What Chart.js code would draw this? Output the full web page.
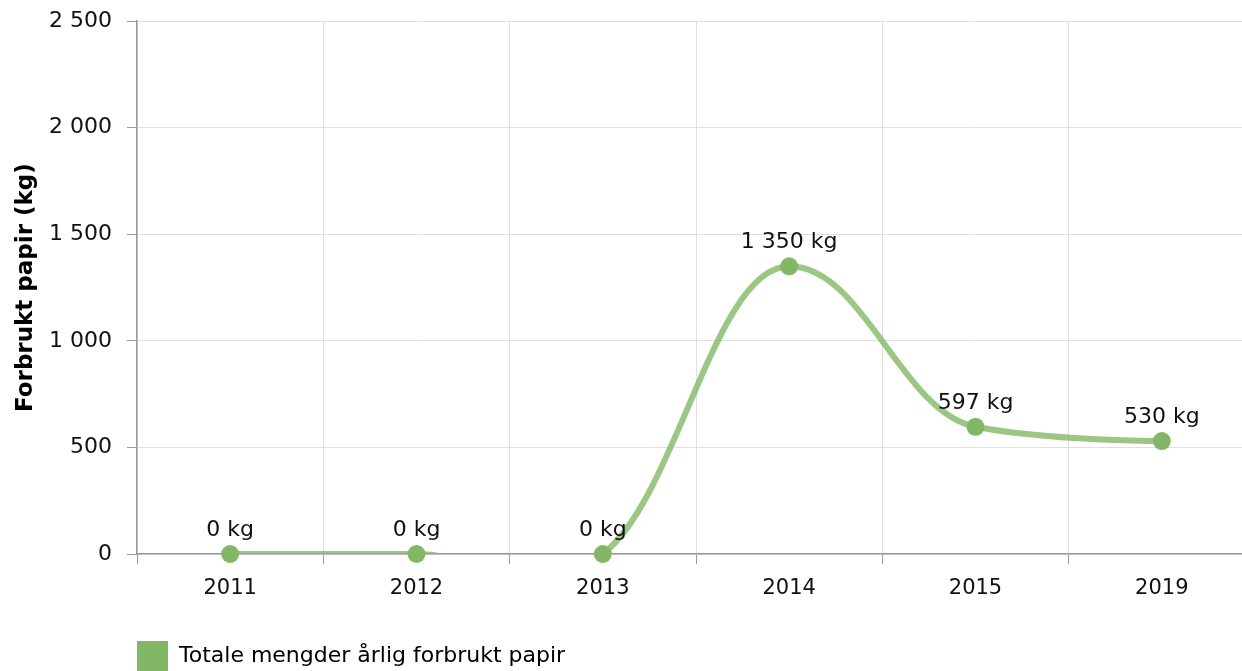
<!DOCTYPE html>
<html>
<head>
<meta charset="utf-8">
<script src="https://cdn.jsdelivr.net/npm/chart.js@4"></script>
<style>
  body { margin: 0; background: #fff; overflow: hidden; }
</style>
</head>
<body>
<!-- bigger than the window: the plot runs past the right edge and the legend is cut at the bottom, like the original -->
<canvas id="paperChart" width="1264" height="682"></canvas>
<script>
const years = ["2011", "2012", "2013", "2014", "2015", "2019"];
const paperKg = [0, 0, 0, 1350, 597, 530];
const seriesLabel = "Totale mengder årlig forbrukt papir";
const yTitle = "Forbrukt papir (kg)";

const FONT = "'DejaVu Sans', Verdana, sans-serif";
const GREEN = "#82b865";

// 1350 -> "1 350"
function spaced(n) {
    return String(n).replace(/\B(?=(\d{3})+(?!\d))/g, " ");
}

// spline like the original: control points at 1/2.5 of the way to the
// neighbours, lined up through the point, only the right one clamped
const splineFix = {
    id: "splineFix",
    beforeDatasetsDraw(chart) {
        const meta = chart.getDatasetMeta(0);
        const line = meta.dataset;
        line.updateControlPoints(chart.chartArea, "x");
        const pts = meta.data;
        const s = 1.5, den = s + 1;
        pts.forEach((p, i) => {
            const prev = pts[i - 1], next = pts[i + 1];
            if (!prev || !next) {
                p.cp1x = p.cp2x = p.x;
                p.cp1y = p.cp2y = p.y;
                return;
            }
            let lx = (s * p.x + prev.x) / den, ly = (s * p.y + prev.y) / den;
            let rx = (s * p.x + next.x) / den, ry = (s * p.y + next.y) / den;
            const corr = ((ry - ly) * (rx - p.x)) / (rx - lx) + p.y - ry;
            ly += corr;
            ry += corr;
            if (ry > next.y && ry > p.y) {
                ry = Math.max(next.y, p.y);
                ly = 2 * p.y - ry;
            } else if (ry < next.y && ry < p.y) {
                ry = Math.min(next.y, p.y);
                ly = 2 * p.y - ry;
            }
            p.cp1x = lx; p.cp1y = ly;
            p.cp2x = rx; p.cp2y = ry;
        });
    }
};

// draws "x kg" above every point
const pointLabels = {
    id: "pointLabels",
    afterDatasetsDraw(chart) {
        const ctx = chart.ctx;
        const meta = chart.getDatasetMeta(1);
        ctx.save();
        ctx.font = "22px " + FONT;
        ctx.fillStyle = "#111";
        ctx.textAlign = "center";
        ctx.textBaseline = "alphabetic";
        meta.data.forEach((pt, i) => {
            ctx.fillText(spaced(paperKg[i]) + " kg", pt.x, pt.y - 18);
        });
        ctx.restore();
    }
};

let ctx = document.getElementById("paperChart").getContext("2d");

const config = {
    type: "line",
    data: {
        labels: years,
        datasets: [{
            label: seriesLabel,
            data: paperKg,
            borderColor: "rgba(130, 184, 101, 0.8)",
            borderWidth: 6,
            tension: 0.4,
            pointRadius: 0,
            pointHoverRadius: 0,
            fill: false,
            clip: { left: 10, right: 10, top: 10, bottom: 0 }
        }, {
            label: "points",
            data: paperKg,
            showLine: false,
            pointRadius: 9,
            pointHoverRadius: 9,
            pointBackgroundColor: GREEN,
            pointBorderWidth: 0,
            clip: false
        }]
    },
    options: {
        responsive: false,
        animation: false,
        layout: { padding: { top: 11, right: 0, left: 0, bottom: 0 } },
        plugins: {
            tooltip: { enabled: false },
            legend: {
                position: "bottom",
                align: "start",
                fullSize: false,
                labels: {
                    boxWidth: 31,
                    boxHeight: 31,
                    padding: 0,
                    color: "#111",
                    font: { family: FONT, size: 22 },
                    generateLabels(chart) {
                        return [{
                            text: seriesLabel,
                            fillStyle: GREEN,
                            strokeStyle: GREEN,
                            lineWidth: 0,
                            datasetIndex: 0
                        }];
                    }
                }
            }
        },
        scales: {
            x: {
                offset: true,
                grid: {
                    offset: true,
                    color: "#e0e0e0",
                    tickLength: 10,
                    tickColor: "#999"
                },
                border: { color: "#999", width: 1.5 },
                ticks: {
                    color: "#111",
                    padding: 12,
                    font: { family: FONT, size: 21 }
                },
                afterFit(scale) { scale.height = 87; }
            },
            y: {
                min: 0,
                max: 2500,
                grid: {
                    color: "#e0e0e0",
                    tickLength: 10,
                    tickColor: "#999"
                },
                border: { color: "#999", width: 1.5 },
                ticks: {
                    stepSize: 500,
                    color: "#111",
                    padding: 8,
                    font: { family: FONT, size: 22 },
                    // trailing space keeps the labels a little further from the axis
                    callback: (v) => spaced(v) + " "
                },
                title: {
                    display: true,
                    text: yTitle,
                    color: "#000",
                    font: { family: FONT, size: 23, weight: "bold" },
                    padding: { top: 12, bottom: 8 }
                },
                afterFit(scale) { scale.width = 137; }
            }
        }
    },
    plugins: [splineFix, pointLabels]
};

let paperChart = new Chart(ctx, config);
</script>
</body>
</html>
